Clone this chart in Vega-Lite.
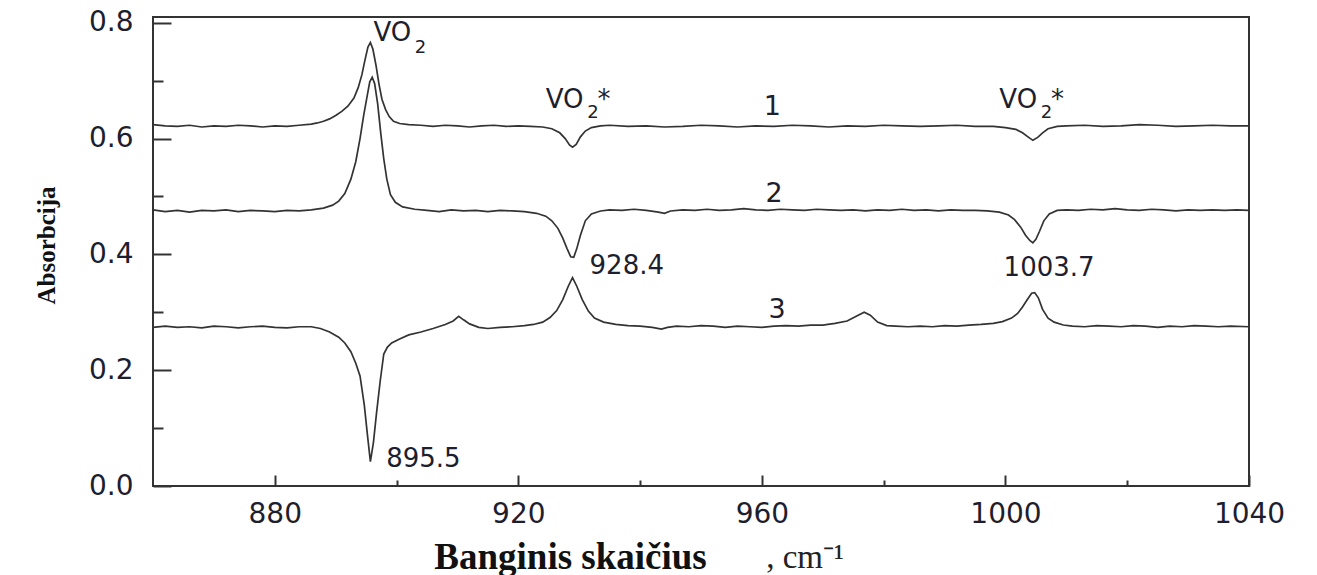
{
  "$schema": "https://vega.github.io/schema/vega-lite/v6.json",
  "width": 1096,
  "height": 469,
  "autosize": {"type": "none"},
  "padding": {"left": 153, "top": 17, "right": 68, "bottom": 89},
  "background": "white",
  "config": {
    "view": {"stroke": "#333333", "strokeWidth": 2},
    "axis": {"grid": false, "domain": false, "labelOverlap": false, "labelFlush": false, "labelBound": false}
  },
  "datasets": {
    "spectra": [
      {"s":1,"x":860,"y":0.624},{"s":1,"x":862,"y":0.622},{"s":1,"x":864,"y":0.621},{"s":1,"x":866,"y":0.623},{"s":1,"x":868,"y":0.620},{"s":1,"x":870,"y":0.622},{"s":1,"x":872,"y":0.621},{"s":1,"x":874,"y":0.623},{"s":1,"x":876,"y":0.622},{"s":1,"x":878,"y":0.620},{"s":1,"x":880,"y":0.622},{"s":1,"x":882,"y":0.621},{"s":1,"x":884,"y":0.623},{"s":1,"x":886,"y":0.625},{"s":1,"x":887,"y":0.627},{"s":1,"x":888,"y":0.630},{"s":1,"x":889,"y":0.634},{"s":1,"x":890,"y":0.640},{"s":1,"x":891,"y":0.647},{"s":1,"x":892,"y":0.656},{"s":1,"x":893,"y":0.670},{"s":1,"x":893.7,"y":0.688},{"s":1,"x":894.3,"y":0.710},{"s":1,"x":894.8,"y":0.735},{"s":1,"x":895.3,"y":0.758},{"s":1,"x":895.7,"y":0.766},{"s":1,"x":896.1,"y":0.755},{"s":1,"x":896.6,"y":0.728},{"s":1,"x":897.1,"y":0.695},{"s":1,"x":897.6,"y":0.668},{"s":1,"x":898.2,"y":0.650},{"s":1,"x":898.8,"y":0.638},{"s":1,"x":899.5,"y":0.630},{"s":1,"x":900.5,"y":0.626},{"s":1,"x":902,"y":0.624},{"s":1,"x":904,"y":0.623},{"s":1,"x":906,"y":0.621},{"s":1,"x":908,"y":0.623},{"s":1,"x":910,"y":0.622},{"s":1,"x":912,"y":0.620},{"s":1,"x":914,"y":0.622},{"s":1,"x":916,"y":0.623},{"s":1,"x":918,"y":0.621},{"s":1,"x":920,"y":0.622},{"s":1,"x":922,"y":0.621},{"s":1,"x":924,"y":0.620},{"s":1,"x":925.5,"y":0.617},{"s":1,"x":926.8,"y":0.610},{"s":1,"x":927.7,"y":0.600},{"s":1,"x":928.4,"y":0.589},{"s":1,"x":928.9,"y":0.585},{"s":1,"x":929.5,"y":0.590},{"s":1,"x":930.2,"y":0.603},{"s":1,"x":931,"y":0.613},{"s":1,"x":932,"y":0.619},{"s":1,"x":933.5,"y":0.622},{"s":1,"x":935,"y":0.623},{"s":1,"x":938,"y":0.621},{"s":1,"x":941,"y":0.622},{"s":1,"x":944,"y":0.620},{"s":1,"x":947,"y":0.621},{"s":1,"x":950,"y":0.623},{"s":1,"x":953,"y":0.622},{"s":1,"x":956,"y":0.620},{"s":1,"x":959,"y":0.622},{"s":1,"x":962,"y":0.621},{"s":1,"x":965,"y":0.623},{"s":1,"x":968,"y":0.622},{"s":1,"x":971,"y":0.620},{"s":1,"x":974,"y":0.622},{"s":1,"x":977,"y":0.621},{"s":1,"x":980,"y":0.623},{"s":1,"x":983,"y":0.622},{"s":1,"x":986,"y":0.621},{"s":1,"x":989,"y":0.622},{"s":1,"x":992,"y":0.623},{"s":1,"x":995,"y":0.621},{"s":1,"x":998,"y":0.621},{"s":1,"x":1000,"y":0.619},{"s":1,"x":1001.7,"y":0.616},{"s":1,"x":1002.8,"y":0.610},{"s":1,"x":1003.7,"y":0.603},{"s":1,"x":1004.5,"y":0.597},{"s":1,"x":1005.3,"y":0.602},{"s":1,"x":1006.1,"y":0.610},{"s":1,"x":1007,"y":0.617},{"s":1,"x":1008.5,"y":0.621},{"s":1,"x":1010,"y":0.622},{"s":1,"x":1013,"y":0.623},{"s":1,"x":1016,"y":0.621},{"s":1,"x":1019,"y":0.622},{"s":1,"x":1022,"y":0.624},{"s":1,"x":1025,"y":0.623},{"s":1,"x":1028,"y":0.621},{"s":1,"x":1031,"y":0.622},{"s":1,"x":1034,"y":0.623},{"s":1,"x":1037,"y":0.622},{"s":1,"x":1040,"y":0.622},
      {"s":2,"x":860,"y":0.477},{"s":2,"x":862,"y":0.474},{"s":2,"x":864,"y":0.476},{"s":2,"x":866,"y":0.473},{"s":2,"x":868,"y":0.476},{"s":2,"x":870,"y":0.475},{"s":2,"x":872,"y":0.477},{"s":2,"x":874,"y":0.474},{"s":2,"x":876,"y":0.476},{"s":2,"x":878,"y":0.475},{"s":2,"x":880,"y":0.474},{"s":2,"x":882,"y":0.476},{"s":2,"x":884,"y":0.475},{"s":2,"x":886,"y":0.477},{"s":2,"x":888,"y":0.480},{"s":2,"x":889.5,"y":0.485},{"s":2,"x":890.5,"y":0.492},{"s":2,"x":891.5,"y":0.505},{"s":2,"x":892.5,"y":0.530},{"s":2,"x":893.3,"y":0.560},{"s":2,"x":894,"y":0.600},{"s":2,"x":894.6,"y":0.640},{"s":2,"x":895.2,"y":0.675},{"s":2,"x":895.6,"y":0.698},{"s":2,"x":896,"y":0.706},{"s":2,"x":896.4,"y":0.695},{"s":2,"x":896.9,"y":0.660},{"s":2,"x":897.4,"y":0.610},{"s":2,"x":897.9,"y":0.565},{"s":2,"x":898.4,"y":0.530},{"s":2,"x":899,"y":0.503},{"s":2,"x":899.8,"y":0.490},{"s":2,"x":901,"y":0.482},{"s":2,"x":903,"y":0.478},{"s":2,"x":905,"y":0.476},{"s":2,"x":907,"y":0.474},{"s":2,"x":909,"y":0.477},{"s":2,"x":911,"y":0.475},{"s":2,"x":913,"y":0.476},{"s":2,"x":915,"y":0.474},{"s":2,"x":917,"y":0.476},{"s":2,"x":919,"y":0.475},{"s":2,"x":921,"y":0.474},{"s":2,"x":923,"y":0.471},{"s":2,"x":924.5,"y":0.466},{"s":2,"x":925.5,"y":0.458},{"s":2,"x":926.5,"y":0.445},{"s":2,"x":927.3,"y":0.428},{"s":2,"x":928,"y":0.410},{"s":2,"x":928.6,"y":0.396},{"s":2,"x":929.1,"y":0.395},{"s":2,"x":929.6,"y":0.410},{"s":2,"x":930.2,"y":0.433},{"s":2,"x":931,"y":0.458},{"s":2,"x":932,"y":0.470},{"s":2,"x":933.5,"y":0.475},{"s":2,"x":935,"y":0.477},{"s":2,"x":937,"y":0.476},{"s":2,"x":939,"y":0.478},{"s":2,"x":941,"y":0.476},{"s":2,"x":943,"y":0.473},{"s":2,"x":944,"y":0.471},{"s":2,"x":945,"y":0.475},{"s":2,"x":947,"y":0.477},{"s":2,"x":949,"y":0.476},{"s":2,"x":951,"y":0.478},{"s":2,"x":953,"y":0.476},{"s":2,"x":955,"y":0.477},{"s":2,"x":957,"y":0.479},{"s":2,"x":959,"y":0.477},{"s":2,"x":961,"y":0.476},{"s":2,"x":963,"y":0.478},{"s":2,"x":965,"y":0.477},{"s":2,"x":967,"y":0.476},{"s":2,"x":969,"y":0.478},{"s":2,"x":971,"y":0.477},{"s":2,"x":973,"y":0.476},{"s":2,"x":975,"y":0.477},{"s":2,"x":977,"y":0.475},{"s":2,"x":979,"y":0.477},{"s":2,"x":981,"y":0.476},{"s":2,"x":983,"y":0.478},{"s":2,"x":985,"y":0.476},{"s":2,"x":987,"y":0.477},{"s":2,"x":989,"y":0.475},{"s":2,"x":991,"y":0.477},{"s":2,"x":993,"y":0.476},{"s":2,"x":995,"y":0.476},{"s":2,"x":997,"y":0.475},{"s":2,"x":999,"y":0.473},{"s":2,"x":1000.5,"y":0.468},{"s":2,"x":1001.5,"y":0.460},{"s":2,"x":1002.5,"y":0.447},{"s":2,"x":1003.3,"y":0.433},{"s":2,"x":1004,"y":0.424},{"s":2,"x":1004.5,"y":0.420},{"s":2,"x":1005,"y":0.426},{"s":2,"x":1005.6,"y":0.440},{"s":2,"x":1006.3,"y":0.458},{"s":2,"x":1007.2,"y":0.470},{"s":2,"x":1008.5,"y":0.476},{"s":2,"x":1010,"y":0.477},{"s":2,"x":1012,"y":0.476},{"s":2,"x":1014,"y":0.478},{"s":2,"x":1016,"y":0.477},{"s":2,"x":1018,"y":0.479},{"s":2,"x":1020,"y":0.477},{"s":2,"x":1022,"y":0.476},{"s":2,"x":1024,"y":0.478},{"s":2,"x":1026,"y":0.477},{"s":2,"x":1028,"y":0.475},{"s":2,"x":1030,"y":0.477},{"s":2,"x":1032,"y":0.476},{"s":2,"x":1034,"y":0.477},{"s":2,"x":1036,"y":0.476},{"s":2,"x":1038,"y":0.477},{"s":2,"x":1040,"y":0.476},
      {"s":3,"x":860,"y":0.274},{"s":3,"x":862,"y":0.276},{"s":3,"x":864,"y":0.274},{"s":3,"x":866,"y":0.275},{"s":3,"x":868,"y":0.273},{"s":3,"x":870,"y":0.276},{"s":3,"x":872,"y":0.275},{"s":3,"x":874,"y":0.273},{"s":3,"x":876,"y":0.275},{"s":3,"x":878,"y":0.276},{"s":3,"x":880,"y":0.274},{"s":3,"x":882,"y":0.273},{"s":3,"x":884,"y":0.275},{"s":3,"x":886,"y":0.275},{"s":3,"x":887.5,"y":0.272},{"s":3,"x":889,"y":0.266},{"s":3,"x":890.5,"y":0.257},{"s":3,"x":891.5,"y":0.247},{"s":3,"x":892.5,"y":0.232},{"s":3,"x":893.3,"y":0.212},{"s":3,"x":894,"y":0.190},{"s":3,"x":894.7,"y":0.140},{"s":3,"x":895.2,"y":0.090},{"s":3,"x":895.7,"y":0.042},{"s":3,"x":896.2,"y":0.075},{"s":3,"x":896.7,"y":0.125},{"s":3,"x":897.3,"y":0.180},{"s":3,"x":897.9,"y":0.228},{"s":3,"x":898.5,"y":0.240},{"s":3,"x":899.2,"y":0.247},{"s":3,"x":900.5,"y":0.254},{"s":3,"x":902,"y":0.261},{"s":3,"x":904,"y":0.266},{"s":3,"x":906,"y":0.272},{"s":3,"x":908,"y":0.279},{"s":3,"x":909.3,"y":0.285},{"s":3,"x":910.2,"y":0.293},{"s":3,"x":911,"y":0.287},{"s":3,"x":912,"y":0.280},{"s":3,"x":913.5,"y":0.274},{"s":3,"x":915,"y":0.272},{"s":3,"x":917,"y":0.274},{"s":3,"x":919,"y":0.275},{"s":3,"x":921,"y":0.277},{"s":3,"x":922.5,"y":0.279},{"s":3,"x":924,"y":0.283},{"s":3,"x":925.2,"y":0.291},{"s":3,"x":926.3,"y":0.303},{"s":3,"x":927.3,"y":0.322},{"s":3,"x":928.2,"y":0.345},{"s":3,"x":928.9,"y":0.360},{"s":3,"x":929.6,"y":0.345},{"s":3,"x":930.5,"y":0.322},{"s":3,"x":931.5,"y":0.302},{"s":3,"x":932.5,"y":0.290},{"s":3,"x":934,"y":0.283},{"s":3,"x":936,"y":0.279},{"s":3,"x":938,"y":0.277},{"s":3,"x":940,"y":0.276},{"s":3,"x":942,"y":0.274},{"s":3,"x":943.5,"y":0.271},{"s":3,"x":944.5,"y":0.274},{"s":3,"x":946,"y":0.276},{"s":3,"x":948,"y":0.275},{"s":3,"x":950,"y":0.277},{"s":3,"x":952,"y":0.276},{"s":3,"x":954,"y":0.274},{"s":3,"x":956,"y":0.276},{"s":3,"x":958,"y":0.275},{"s":3,"x":960,"y":0.274},{"s":3,"x":962,"y":0.276},{"s":3,"x":964,"y":0.277},{"s":3,"x":966,"y":0.276},{"s":3,"x":968,"y":0.278},{"s":3,"x":970,"y":0.278},{"s":3,"x":972,"y":0.281},{"s":3,"x":974,"y":0.285},{"s":3,"x":975.5,"y":0.293},{"s":3,"x":976.8,"y":0.300},{"s":3,"x":977.8,"y":0.295},{"s":3,"x":979,"y":0.283},{"s":3,"x":980.5,"y":0.277},{"s":3,"x":982,"y":0.276},{"s":3,"x":984,"y":0.275},{"s":3,"x":986,"y":0.276},{"s":3,"x":988,"y":0.275},{"s":3,"x":990,"y":0.277},{"s":3,"x":992,"y":0.276},{"s":3,"x":994,"y":0.278},{"s":3,"x":996,"y":0.279},{"s":3,"x":998,"y":0.281},{"s":3,"x":999.5,"y":0.284},{"s":3,"x":1001,"y":0.290},{"s":3,"x":1002,"y":0.298},{"s":3,"x":1002.8,"y":0.309},{"s":3,"x":1003.6,"y":0.322},{"s":3,"x":1004.3,"y":0.333},{"s":3,"x":1004.8,"y":0.334},{"s":3,"x":1005.4,"y":0.325},{"s":3,"x":1006.1,"y":0.305},{"s":3,"x":1007,"y":0.290},{"s":3,"x":1008,"y":0.283},{"s":3,"x":1009.5,"y":0.278},{"s":3,"x":1011,"y":0.276},{"s":3,"x":1013,"y":0.275},{"s":3,"x":1015,"y":0.277},{"s":3,"x":1017,"y":0.276},{"s":3,"x":1019,"y":0.275},{"s":3,"x":1021,"y":0.277},{"s":3,"x":1023,"y":0.276},{"s":3,"x":1025,"y":0.274},{"s":3,"x":1027,"y":0.276},{"s":3,"x":1029,"y":0.275},{"s":3,"x":1031,"y":0.277},{"s":3,"x":1033,"y":0.276},{"s":3,"x":1035,"y":0.275},{"s":3,"x":1037,"y":0.276},{"s":3,"x":1040,"y":0.275}
    ],
    "bigLabels": [
      {"t":"VO","x":896.2,"y":0.769},
      {"t":"VO","x":924.5,"y":0.653},
      {"t":"*","x":933.0,"y":0.653},
      {"t":"VO","x":999.0,"y":0.653},
      {"t":"*","x":1007.5,"y":0.653},
      {"t":"928.4","x":931.7,"y":0.366},
      {"t":"1003.7","x":999.7,"y":0.362},
      {"t":"895.5","x":898.3,"y":0.033}
    ],
    "subLabels": [
      {"t":"2","x":903.0,"y":0.748},
      {"t":"2","x":931.3,"y":0.636},
      {"t":"2","x":1005.8,"y":0.636}
    ],
    "curveLabels": [
      {"t":"1","x":961.7,"y":0.640},
      {"t":"2","x":962.0,"y":0.490},
      {"t":"3","x":962.5,"y":0.290}
    ],
    "unitLabel": [
      {"t":",  cm⁻¹","x":960.7,"y":-0.1414}
    ]
  },
  "layer": [
    {
      "data": {"name": "spectra"},
      "mark": {"type": "line", "color": "#333333", "strokeWidth": 1.7, "interpolate": "linear"},
      "encoding": {
        "x": {"field": "x", "type": "quantitative",
              "scale": {"domain": [860, 1040], "nice": false, "zero": false},
              "axis": {"orient": "bottom", "values": [880, 920, 960, 1000, 1040], "format": "d",
                       "tickSize": -11, "tickWidth": 2, "tickColor": "#333333",
                       "labelFont": "DejaVu Sans", "labelFontSize": 28, "labelColor": "#1e1e2e", "labelPadding": 25,
                       "title": "Banginis skaičius", "titleFont": "Liberation Serif", "titleFontWeight": "bold",
                       "titleFontSize": 37, "titleColor": "#111111", "titleX": 417, "titleY": 82,
                       "titleAlign": "center", "titleBaseline": "alphabetic"}},
        "y": {"field": "y", "type": "quantitative",
              "scale": {"domain": [0, 0.81], "nice": false, "zero": false},
              "axis": {"orient": "left", "values": [0, 0.2, 0.4, 0.6, 0.8], "format": ".1f",
                       "tickSize": -18, "tickWidth": 2, "tickColor": "#333333",
                       "labelFont": "DejaVu Sans", "labelFontSize": 28, "labelColor": "#1e1e2e", "labelPadding": 38,
                       "title": "Absorbcija", "titleFont": "Liberation Serif", "titleFontWeight": "bold",
                       "titleFontSize": 25, "titleColor": "#111111", "titleAngle": 270, "titleX": -99, "titleY": 228,
                       "titleAlign": "center", "titleBaseline": "alphabetic"}},
        "detail": {"field": "s", "type": "nominal"}
      }
    },
    {
      "data": {"name": "bigLabels"},
      "mark": {"type": "text", "font": "DejaVu Sans", "fontSize": 26, "align": "left", "baseline": "alphabetic", "color": "#1e1e2e"},
      "encoding": {
        "x": {"field": "x", "type": "quantitative",
              "scale": {"domain": [860, 1040], "nice": false, "zero": false},
              "axis": {"orient": "bottom", "values": [900, 940, 980, 1020], "labels": false, "title": null,
                       "tickSize": -6, "tickWidth": 2, "tickColor": "#333333"}},
        "y": {"field": "y", "type": "quantitative",
              "scale": {"domain": [0, 0.81], "nice": false, "zero": false},
              "axis": {"orient": "left", "values": [0.1, 0.3, 0.5, 0.7], "labels": false, "title": null,
                       "tickSize": -10, "tickWidth": 2, "tickColor": "#333333"}},
        "text": {"field": "t"}
      }
    },
    {
      "data": {"name": "subLabels"},
      "mark": {"type": "text", "font": "DejaVu Sans", "fontSize": 18, "align": "left", "baseline": "alphabetic", "color": "#1e1e2e"},
      "encoding": {
        "x": {"field": "x", "type": "quantitative", "scale": {"domain": [860, 1040], "nice": false, "zero": false}, "axis": null},
        "y": {"field": "y", "type": "quantitative", "scale": {"domain": [0, 0.81], "nice": false, "zero": false}, "axis": null},
        "text": {"field": "t"}
      }
    },
    {
      "data": {"name": "curveLabels"},
      "mark": {"type": "text", "font": "DejaVu Sans", "fontSize": 27, "align": "center", "baseline": "alphabetic", "color": "#1e1e2e"},
      "encoding": {
        "x": {"field": "x", "type": "quantitative", "scale": {"domain": [860, 1040], "nice": false, "zero": false}, "axis": null},
        "y": {"field": "y", "type": "quantitative", "scale": {"domain": [0, 0.81], "nice": false, "zero": false}, "axis": null},
        "text": {"field": "t"}
      }
    },
    {
      "data": {"name": "unitLabel"},
      "mark": {"type": "text", "font": "Liberation Serif", "fontSize": 33, "align": "left", "baseline": "alphabetic", "color": "#222222"},
      "encoding": {
        "x": {"field": "x", "type": "quantitative", "scale": {"domain": [860, 1040], "nice": false, "zero": false}, "axis": null},
        "y": {"field": "y", "type": "quantitative", "scale": {"domain": [0, 0.81], "nice": false, "zero": false}, "axis": null},
        "text": {"field": "t"}
      }
    }
  ],
  "resolve": {"axis": {"x": "independent", "y": "independent"}}
}
